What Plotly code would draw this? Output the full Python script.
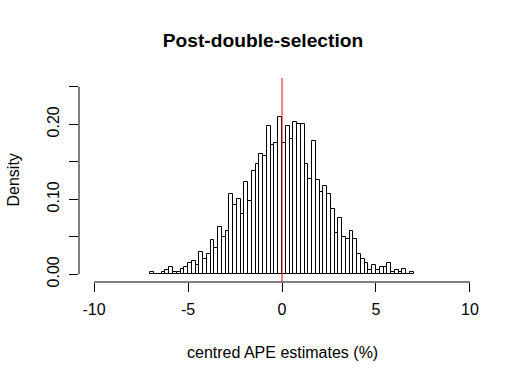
import numpy as np
import plotly.graph_objects as go

# histogram of centred APE estimates, bins of width 0.2 from -7 to 7
bin_start = -7.0
bin_width = 0.2
counts = [1, 0, 0, 1, 2, 4, 1, 1, 3, 4,
          6, 7, 5, 12, 8, 11, 18, 14, 25, 20,
          23, 43, 37, 40, 32, 49, 39, 55, 59, 64,
          63, 79, 69, 70, 84, 70, 79, 72, 81, 80,
          80, 59, 51, 71, 50, 44, 47, 43, 35, 22,
          30, 20, 19, 23, 19, 11, 8, 6, 2, 5,
          2, 4, 4, 6, 1, 2, 1, 3, 0, 1]

x_ticks = [-10, -5, 0, 5, 10]
x_labels = ["-10", "-5", "0", "5", "10"]
y_ticks = [0.00, 0.05, 0.10, 0.15, 0.20, 0.25]
y_labels = ["0.00", "", "0.10", "", "0.20", ""]

counts = np.array(counts)
centres = bin_start + bin_width * (np.arange(len(counts)) + 0.5)
density = counts / (counts.sum() * bin_width)

FONT = "Liberation Sans, Arial, sans-serif"
W, H = 526, 380

fig = go.Figure()
fig.add_trace(go.Bar(x=centres, y=density, width=bin_width,
                     marker=dict(color="white", line=dict(color="black", width=1)),
                     showlegend=False, hoverinfo="skip"))

fig.update_layout(
    width=W, height=H,
    margin=dict(l=79, r=41, t=78, b=98),
    plot_bgcolor="white", paper_bgcolor="white",
    font=dict(family=FONT, size=16, color="black"),
    bargap=0,
    title=dict(text="<b>Post-double-selection</b>", x=0.5, xanchor="center",
               y=1 - 40.5 / H, yanchor="middle", font=dict(size=19.2)),
)

fig.update_xaxes(range=[-10.8, 10.8], tickvals=x_ticks, ticktext=x_labels,
                 showgrid=False, zeroline=False,
                 showline=False, ticks="outside", ticklen=9, tickcolor="black",
                 ticklabelstandoff=4)
fig.update_yaxes(range=[-0.0104, 0.2616], tickvals=y_ticks, ticktext=y_labels,
                 tickangle=-90, showgrid=False, zeroline=False, showline=False,
                 ticks="outside", ticklen=9, tickcolor="black", ticklabelstandoff=4)

# R style axis lines, only between first and last tick
fig.add_shape(type="line", xref="x", yref="paper", x0=-10, x1=10, y0=0, y1=0,
              line=dict(color="black", width=1))
fig.add_shape(type="line", xref="paper", yref="y", x0=0, x1=0, y0=0, y1=0.25,
              line=dict(color="black", width=1))
# vertical reference line at zero
fig.add_shape(type="line", xref="x", yref="paper", x0=0, x1=0, y0=0, y1=1,
              line=dict(color="#ff0000", width=1))

fig.add_annotation(text="centred APE estimates (%)", xref="paper", yref="paper",
                   x=0.5, y=0, yanchor="middle", yshift=-70, showarrow=False)
fig.add_annotation(text="Density", xref="paper", yref="paper", x=0, y=0.5,
                   xanchor="center", xshift=-66.5, textangle=-90, showarrow=False)

# drop the default 8px body margin so the figure fills the window
fig.write_html("out.html", config={"displayModeBar": False},
               post_script="document.body.style.margin='0px';")
